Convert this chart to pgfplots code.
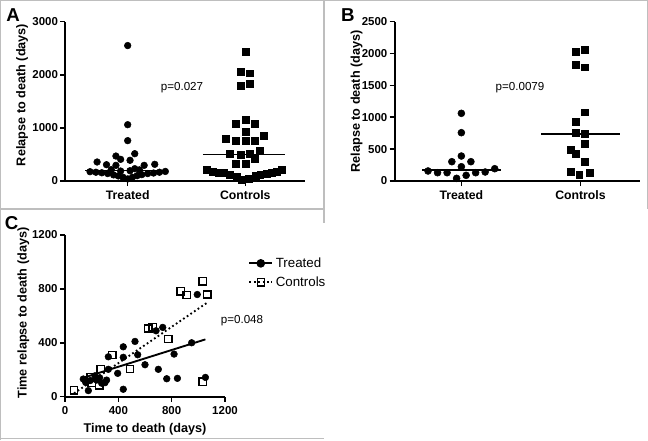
\documentclass[border=0pt]{standalone}
\usepackage{pgfplots}
\pgfplotsset{compat=1.18}
\usepackage{fontspec}
\setmainfont{Liberation Sans}
\definecolor{framegray}{RGB}{190,190,190}
\pgfplotsset{
  prism/.style={
    scale only axis, anchor=south west, clip=false,
    axis lines*=left,
    axis line style={line width=1.5pt, black},
    tick align=outside, major tick length=3.8pt,
    tick style={line width=1.2pt, black},
    minor tick num=0,
    scaled ticks=false,
    /pgf/number format/assume math mode=true,
    /pgf/number format/1000 sep={},
    ticklabel style={font=\bfseries\fontsize{8.6}{10}\selectfont},
    yticklabel style={xshift=1.8pt},
    xlabel style={font=\bfseries\fontsize{9.5}{11}\selectfont},
  },
  cat/.style={xticklabel style={font=\bfseries\fontsize{9.2}{10}\selectfont}},
}
\begin{document}
\begin{tikzpicture}
\path[use as bounding box] (0,0) rectangle (486pt,330pt);
% frames
\draw[framegray, line width=0.8pt] (0.4pt,0) -- (0.4pt,329.6pt) -- (485.6pt,329.6pt) -- (485.6pt,173.25pt);
\draw[framegray, line width=0.8pt] (0,173.25pt) -- (243pt,173.25pt);
\draw[framegray, line width=0.8pt] (243pt,329.6pt) -- (243pt,162.75pt);
\draw[framegray, line width=0.8pt] (0,1.3pt) -- (243pt,1.3pt);

% ---------- Panel A ----------
\begin{axis}[prism, cat,
  at={(49pt,194.25pt)}, width=180pt, height=119.5pt,
  xmin=-0.53, xmax=1.51, ymin=0, ymax=3000,
  xtick={0,1}, xticklabels={Treated,Controls},
  ytick={0,1000,2000,3000},
  ylabel={Relapse to death (days)},
  every axis y label/.style={at={(rel axis cs:-0.18,0.54)}, rotate=90, anchor=center,
    font=\bfseries\fontsize{9.5}{11}\selectfont},
]
\addplot[only marks, mark=*, mark size=2.5pt, black] coordinates {
(0,2550) (0,1060) (0,760) (-0.26,358) (-0.18,307) (-0.10,470) (-0.06,408)
(0.06,514) (0.02,390) (-0.10,295) (0.06,232) (0.14,295) (0.23,314)
(-0.06,188) (0.02,194) (-0.14,215) (0.10,210)
(-0.32,175) (-0.27,165) (-0.22,155) (-0.17,140) (-0.12,115) (-0.08,95) (-0.04,70)
(0,40) (0.04,70) (0.08,100) (0.12,120) (0.17,140) (0.22,150) (0.27,165) (0.32,180)
};
\addplot[only marks, mark=square*, mark size=2.6pt, black] coordinates {
(1,2435) (0.96,2058) (1.04,2028) (0.96,1789) (1.04,1827)
(0.92,1086) (1,1149) (1.08,1073) (1,928)
(0.83,797) (0.92,759) (1,759) (1.08,759) (1.16,860)
(0.87,508) (0.96,490) (1.04,508) (1.12,571) (1.08,414)
(0.92,320) (1,320)
(0.675,220) (0.72,182) (0.77,156) (0.82,150) (0.87,113) (0.924,81) (0.972,32)
(1.028,50) (1.085,94) (1.127,113) (1.18,132) (1.226,156) (1.27,182) (1.31,207)
};
\addplot[black, line width=1pt] coordinates {(-0.36,194) (0.32,194)};
\addplot[black, line width=1pt] coordinates {(0.64,502) (1.34,502)};
\end{axis}

% ---------- Panel B ----------
\begin{axis}[prism, cat,
  at={(296pt,194.25pt)}, width=184pt, height=119.5pt,
  xmin=-0.56, xmax=1.5, ymin=0, ymax=2500,
  xtick={0,1}, xticklabels={Treated,Controls},
  ytick={0,500,1000,1500,2000,2500},
  ylabel={Relapse to death (days)},
  every axis y label/.style={at={(rel axis cs:-0.155,0.5)}, rotate=90, anchor=center,
    font=\bfseries\fontsize{9.5}{11}\selectfont},
]
\addplot[only marks, mark=*, mark size=2.6pt, black] coordinates {
(0,1062) (0,758) (0,392) (-0.08,303) (0.08,303) (0,224)
(-0.28,157) (-0.2,130) (-0.12,130) (-0.04,42) (0.04,89) (0.12,130) (0.2,141) (0.28,193)
};
\addplot[only marks, mark=square*, mark size=2.6pt, black] coordinates {
(0.96,2029) (1.04,2055) (0.96,1820) (1.04,1784) (1.04,1078) (0.96,926)
(0.96,758) (1.04,737) (0.92,497) (0.96,424) (1.04,580) (1.04,303)
(0.92,141) (0.99,99) (1.08,130)
};
\addplot[black, line width=1pt] coordinates {(-0.33,173) (0.33,173)};
\addplot[black, line width=1pt] coordinates {(0.67,737) (1.33,737)};
\end{axis}

% ---------- Panel C ----------
\begin{axis}[prism,
  at={(48.75pt,32.5pt)}, width=120pt, height=121.3pt,
  xmin=0, xmax=1200, ymin=0, ymax=1200,
  xtick={0,400,800,1200}, ytick={0,400,800,1200},
  xlabel={Time to death (days)},
  ylabel={Time relapse to death (days)},
  every axis y label/.style={at={(rel axis cs:-0.26,0.518)}, rotate=90, anchor=center,
    font=\bfseries\fontsize{9.5}{11}\selectfont},
  legend style={at={(1.12,0.895)}, anchor=north west, draw=none, fill=none,
    font=\fontsize{10}{12}\selectfont, row sep=1.5pt},
  legend cell align=left,
]
\addlegendimage{black, line width=1.4pt, mark=*, mark size=2.5pt}
\addlegendentry{Treated}
\addlegendimage{black, line width=1.4pt, dash pattern=on 1.3pt off 2pt, mark=square, mark size=2.7pt, mark options={solid, line width=1pt, fill=white}}
\addlegendentry{Controls}
\addplot[black, line width=1.4pt, forget plot] coordinates {(137,140) (1053,425)};
\addplot[black, line width=1.4pt, dash pattern=on 1.3pt off 2pt, forget plot] coordinates {(68,25) (1067,698)};
\addplot[only marks, mark=*, mark size=2.5pt, black, forget plot] coordinates {
(137,131) (155,106) (175,45) (190,120) (225,155) (237,123) (260,140) (275,100)
(300,104) (312,123) (325,203) (325,296) (395,173) (437,370) (437,292) (437,55)
(525,410) (545,311) (600,237) (683,489) (733,514) (700,203) (763,133) (818,316)
(843,136) (950,400) (992,758) (1053,143)
};
\addplot[only marks, mark=square, mark size=2.7pt, black, mark options={line width=1pt, fill=white}, forget plot] coordinates {
(68,47) (193,143) (200,104) (258,84) (268,205) (355,309) (488,205) (625,506)
(658,514) (775,427) (868,782) (913,753) (1033,856) (1067,758) (1033,111)
};
\end{axis}

% p-values and panel letters
\node[font=\fontsize{8.7}{10}\selectfont] at (136.5pt,264.5pt) {p=0.027};
\node[font=\fontsize{8.7}{10}\selectfont] at (390pt,264.5pt) {p=0.0079};
\node[font=\fontsize{8.7}{10}\selectfont] at (181.5pt,89.25pt) {p=0.048};
\node[font=\bfseries\fontsize{14}{15}\selectfont] at (9.75pt,318.75pt) {A};
\node[font=\bfseries\fontsize{14}{15}\selectfont] at (260.8pt,318.75pt) {B};
\node[font=\bfseries\fontsize{14}{15}\selectfont] at (8.8pt,162.5pt) {C};
\end{tikzpicture}
\end{document}
